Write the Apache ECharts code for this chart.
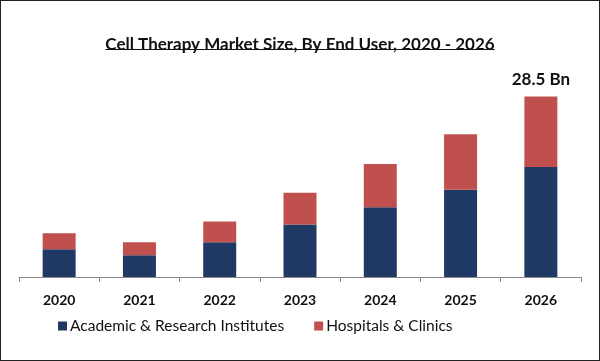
<!DOCTYPE html>
<html><head><meta charset="utf-8">
<script src="https://cdn.jsdelivr.net/npm/echarts@6/dist/echarts.min.js"></script>
<style>
html,body{margin:0;padding:0;background:#fff;}
#c{width:600px;height:361px;box-sizing:border-box;border:1px solid #222;}
</style></head>
<body><div id="c"></div>
<script>
const years = ['2020','2021','2022','2023','2024','2025','2026'];
const academic = [4.38, 3.44, 5.48, 8.30, 11.0, 13.78, 17.38];
const hospitals = [2.51, 2.04, 3.29, 5.01, 6.85, 8.77, 11.12];
const totalLabel = '28.5 Bn';
const titleText = 'Cell Therapy Market Size, By End User, 2020 - 2026';
const FONT = 'Lato';

const chart = echarts.init(document.getElementById('c'), null, {renderer:'canvas'});
const hospData = hospitals.map((v,i)=> i===hospitals.length-1 ? {value:v,label:{show:true,position:'top',distance:8,formatter:totalLabel,fontFamily:FONT,fontWeight:'bold',fontSize:17,color:'#111'}} : v);
chart.setOption({
  animation:false,
  title:{text:titleText,left:'center',top:30,textStyle:{fontFamily:FONT,fontWeight:'bold',fontSize:17,color:'#111'}},
  legend:{left:52,top:312,itemWidth:9,itemHeight:9,itemGap:30,icon:'rect',
    textStyle:{fontFamily:FONT,fontSize:15.5,color:'#111',padding:[0,0,0,-2]},
    data:['Academic & Research Institutes','Hospitals & Clinics']},
  grid:{left:18,right:18,top:86,bottom:83,containLabel:false},
  xAxis:{type:'category',data:years,boundaryGap:true,
    axisLine:{lineStyle:{color:'#8a8a8a',width:1}},
    axisTick:{show:true,length:5,lineStyle:{color:'#8a8a8a'}},
    axisLabel:{fontFamily:FONT,fontWeight:'bold',fontSize:14,color:'#111',margin:16}},
  yAxis:{type:'value',min:0,max:30,show:false,splitLine:{show:false}},
  series:[
    {name:'Academic & Research Institutes',type:'bar',stack:'a',data:academic,barWidth:33,itemStyle:{color:'#1f3864'}},
    {name:'Hospitals & Clinics',type:'bar',stack:'a',data:hospData,barWidth:33,itemStyle:{color:'#c0504d'}}
  ]
});
const ctx = document.createElement('canvas').getContext('2d');
ctx.font = 'bold 17px ' + FONT;
const tw = ctx.measureText(titleText).width;
chart.setOption({graphic:[{type:'rect',left:'center',top:48,shape:{width:tw,height:1},style:{fill:'#111'}}]});
</script></body></html>
